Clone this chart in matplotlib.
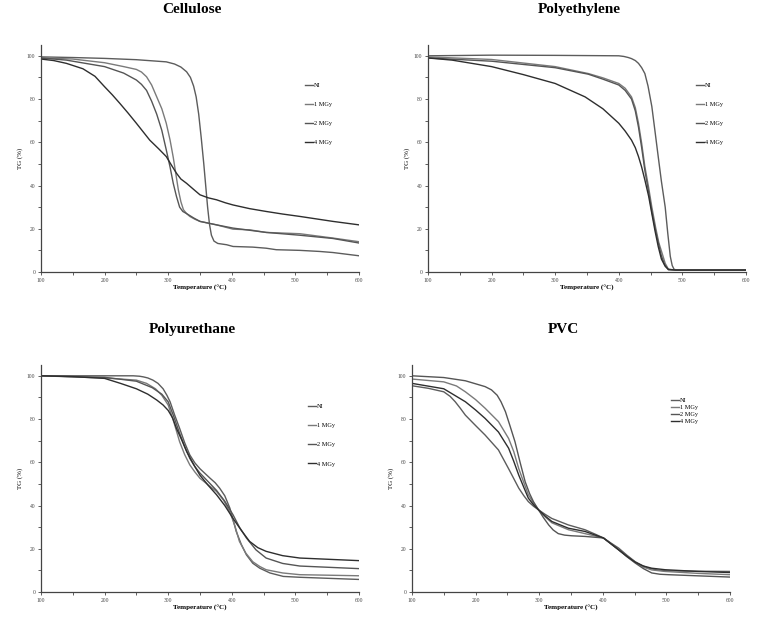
import matplotlib
matplotlib.use("Agg")
import matplotlib.pyplot as plt
from matplotlib.ticker import MultipleLocator

plt.rcParams["font.family"] = ["Liberation Serif", "DejaVu Serif"]

labels = ["NI", "1 MGy", "2 MGy", "4 MGy"]
colors = ["#5c5c5c", "#7a7a7a", "#555555", "#2e2e2e"]

# Cellulose
cell_ni_t = [100, 150, 200, 250, 297, 310, 320, 329, 335, 340, 344, 348, 352, 356, 359, 362, 365, 368, 372, 378, 392, 402, 433, 454, 470, 507, 538, 559, 600]
cell_ni_tg = [99.5, 99.2, 98.8, 98.2, 97.2, 96.2, 94.8, 92.6, 90, 86, 81, 73, 62, 50, 40, 30, 22, 17, 14.3, 13.2, 12.6, 11.8, 11.5, 11, 10.3, 10, 9.5, 9, 7.5]
cell_1_t = [100, 150, 200, 230, 250, 258, 266, 274, 282, 290, 297, 303, 308, 312, 316, 320, 324, 329, 334, 342, 350, 376, 402, 428, 454, 507, 559, 600]
cell_1_tg = [99, 98.5, 96.8, 95, 93.7, 92.5, 90.3, 86.5, 81, 75.5, 68.8, 61, 53, 45.5, 38, 32.5, 28.8, 27, 25.7, 24.4, 23.4, 21.8, 19.8, 19.5, 18.3, 17.7, 15.7, 14]
cell_2_t = [100, 140, 200, 230, 250, 258, 266, 274, 282, 290, 297, 303, 308, 313, 318, 323, 329, 340, 350, 376, 402, 454, 507, 559, 600]
cell_2_tg = [99, 98, 95, 92, 88.8, 86.8, 84, 79, 73, 65.5, 56.5, 48.5, 41, 35, 30, 28, 27, 25, 23.4, 21.8, 20.3, 18.3, 17, 15.5, 13.4]
cell_4_t = [100, 120, 140, 166, 185, 200, 212, 224, 237, 250, 271, 285, 297, 305, 313, 320, 329, 340, 350, 363, 376, 390, 402, 428, 454, 480, 507, 559, 600]
cell_4_tg = [98.5, 97.8, 96.5, 94, 90.5, 85.7, 82, 78, 73.5, 68.8, 61, 57, 53.4, 49.5, 45.7, 43, 41, 38.2, 35.7, 34.3, 33.4, 32, 31, 29.3, 28, 26.8, 25.7, 23.4, 21.8]

# Polyethylene
pe_ni_t = [100, 200, 300, 400, 408, 415, 420, 426, 431, 436, 441, 446, 452, 457, 462, 467, 473, 477, 481, 484, 487, 492, 600]
pe_ni_tg = [100, 100.3, 100.2, 100, 99.7, 99.2, 98.7, 97.8, 96.5, 94.5, 91.8, 86, 76.5, 65, 53.4, 42, 30, 18, 7.2, 3, 1.2, 0.9, 0.9]
pe_1_t = [100, 200, 300, 352, 375, 400, 410, 420, 426, 431, 436, 441, 447, 452, 458, 463, 468, 473, 478, 490, 600]
pe_1_tg = [99.5, 98.3, 95, 91.8, 89.8, 87.2, 85, 81, 76, 68.8, 59.5, 48.8, 39, 30, 20.5, 13.5, 8.8, 4, 1.3, 0.8, 0.8]
pe_2_t = [100, 200, 300, 352, 375, 400, 410, 420, 426, 431, 436, 441, 447, 452, 458, 463, 467, 472, 478, 490, 600]
pe_2_tg = [99, 97.5, 94.5, 91.5, 89.2, 86.5, 84, 80, 74.5, 67, 57.5, 47, 37, 28, 19, 12.5, 7.5, 3.5, 1, 0.9, 0.9]
pe_4_t = [100, 138, 200, 250, 300, 347, 375, 400, 410, 420, 426, 431, 436, 441, 447, 452, 457, 462, 467, 473, 478, 490, 600]
pe_4_tg = [99, 98, 95, 91.3, 87.2, 81, 75.5, 68.8, 65.2, 61, 57.5, 53.4, 48.5, 42.6, 35, 27, 19, 11.8, 6, 2.6, 1.2, 0.9, 0.9]

# Polyurethane
pu_ni_t = [100, 200, 245, 255, 261, 268, 276, 284, 292, 298, 303, 310, 318, 326, 334, 342, 350, 358, 366, 374, 381, 389, 397, 402, 407, 415, 423, 433, 444, 460, 481, 507, 600]
pu_ni_tg = [100, 100, 100, 99.8, 99.5, 99, 98, 96.5, 94, 91, 88, 82, 75.7, 69, 63.4, 59.7, 57, 54.8, 52.6, 50.5, 48, 44.5, 38.8, 33.5, 28, 22, 17.2, 13.3, 11, 8.8, 7.2, 6.8, 5.8]
pu_1_t = [100, 200, 250, 266, 280, 290, 300, 309, 318, 326, 334, 342, 350, 363, 376, 387, 397, 405, 412, 422, 433, 444, 454, 480, 507, 600]
pu_1_tg = [100, 99, 98, 96.5, 94, 91, 86.5, 78.5, 69.5, 63.5, 58.8, 55.5, 52.6, 49.5, 46.5, 42.5, 37, 30.5, 23.4, 18, 14, 11.8, 10.3, 8.8, 8, 7.5]
pu_2_t = [100, 200, 250, 275, 290, 300, 309, 318, 326, 334, 342, 350, 363, 376, 389, 402, 412, 423, 438, 454, 480, 507, 600]
pu_2_tg = [100, 99.3, 97.5, 94.5, 91.5, 88, 81, 73.4, 67.3, 61.8, 58, 55, 51, 47, 42, 35.7, 30, 25, 19.5, 15.7, 13.2, 12, 10.8]
pu_4_t = [100, 150, 200, 225, 250, 268, 282, 292, 300, 307, 313, 321, 329, 340, 350, 363, 376, 389, 402, 415, 428, 441, 454, 480, 507, 600]
pu_4_tg = [100, 99.6, 98.8, 96.5, 94, 91.5, 88.8, 86.5, 84, 80.5, 75.7, 70.5, 65, 59, 54, 49.3, 45, 40, 34, 28.5, 23.4, 20.5, 18.8, 16.8, 15.7, 14.5]

# PVC
pvc_ni_t = [100, 126, 150, 160, 168, 176, 184, 200, 215, 236, 252, 260, 268, 276, 283, 291, 299, 310, 320, 346, 372, 390, 401, 412, 425, 438, 451, 462, 472, 485, 498, 550, 600]
pvc_ni_tg = [95.4, 94.2, 92.6, 90.5, 88, 85, 81.8, 77, 72.6, 65.7, 57, 52.5, 48, 44.5, 41.8, 39.7, 38, 35.8, 34, 31, 28.8, 26.5, 25, 22.8, 20.3, 17, 14, 12.2, 11, 10.2, 9.8, 9.6, 9.5]
pvc_1_t = [100, 150, 170, 184, 200, 215, 236, 252, 260, 268, 276, 283, 291, 299, 310, 320, 346, 372, 401, 412, 425, 438, 451, 464, 477, 498, 550, 600]
pvc_1_tg = [98.5, 97.2, 95.3, 92.6, 89, 85, 78.8, 71, 65, 57, 50.5, 45, 41.2, 38, 34.6, 32, 28.8, 27, 25, 22.5, 19.5, 16.5, 13.8, 11.5, 10.2, 9.5, 8.6, 8]
pvc_2_t = [100, 150, 184, 215, 225, 234, 240, 247, 254, 262, 270, 278, 285, 291, 299, 307, 315, 322, 330, 340, 351, 372, 401, 412, 425, 438, 451, 464, 477, 490, 503, 600]
pvc_2_tg = [100, 99.2, 97.7, 95, 93.5, 91, 88, 83.4, 77, 69.5, 60, 51, 45.5, 41.8, 38, 34.3, 31, 28.7, 27, 26.3, 26, 25.7, 25, 22.5, 19.5, 16.3, 13.4, 10.8, 8.8, 8.2, 8, 6.9]
pvc_4_t = [100, 150, 184, 200, 215, 236, 252, 260, 268, 276, 283, 291, 299, 310, 320, 346, 372, 401, 412, 425, 438, 451, 464, 477, 498, 550, 600]
pvc_4_tg = [96.5, 94, 88, 84.2, 80.3, 74, 66.5, 60.5, 54, 48.3, 43.4, 40.4, 38, 35, 32.6, 29.5, 28, 25, 22.5, 19.5, 16.5, 13.8, 12, 11, 10.3, 9.5, 9]

panels = [
    ("Cellulose", [0.0532, 0.5599, 0.413, 0.3673],
     [(cell_ni_t, cell_ni_tg), (cell_1_t, cell_1_tg), (cell_2_t, cell_2_tg), (cell_4_t, cell_4_tg)],
     (0.82, 0.848), 2.2),
    ("Polyethylene", [0.5558, 0.5599, 0.413, 0.3673],
     [(pe_ni_t, pe_ni_tg), (pe_1_t, pe_1_tg), (pe_2_t, pe_2_tg), (pe_4_t, pe_4_tg)],
     (0.833, 0.848), 2.2),
    ("Polyurethane", [0.0532, 0.0421, 0.413, 0.3673],
     [(pu_ni_t, pu_ni_tg), (pu_1_t, pu_1_tg), (pu_2_t, pu_2_tg), (pu_4_t, pu_4_tg)],
     (0.83, 0.843), 2.2),
    ("PVC", [0.535, 0.0421, 0.413, 0.3673],
     [(pvc_ni_t, pvc_ni_tg), (pvc_1_t, pvc_1_tg), (pvc_2_t, pvc_2_tg), (pvc_4_t, pvc_4_tg)],
     (0.805, 0.87), 0.25),
]

fig = plt.figure(figsize=(7.7, 6.18), dpi=100)

for title, rect, series, leg_pos, spacing in panels:
    ax = fig.add_axes(rect)
    for (t, tg), lab, c in zip(series, labels, colors):
        ax.plot(t, tg, color=c, lw=1.0, label=lab)
    ax.set_xlim(100, 600)
    ax.set_ylim(0, 105)
    ax.xaxis.set_major_locator(MultipleLocator(100))
    ax.xaxis.set_minor_locator(MultipleLocator(50))
    ax.yaxis.set_major_locator(MultipleLocator(20))
    ax.yaxis.set_minor_locator(MultipleLocator(10))
    ax.tick_params(which="both", labelsize=4, length=2, width=0.6, colors="#444444", pad=2)
    for side in ["top", "right"]:
        ax.spines[side].set_visible(False)
    for side in ["left", "bottom"]:
        ax.spines[side].set_color("#444444")
        ax.spines[side].set_linewidth(0.9)
    ax.set_xlabel("Temperature (°C)", fontsize=5, fontweight="bold", labelpad=2)
    ax.set_ylabel("TG (%)", fontsize=5, labelpad=3)
    ax.legend(loc="upper left", bbox_to_anchor=leg_pos, frameon=False, fontsize=4.5,
              handlelength=1.3, handletextpad=0.1, labelspacing=spacing, borderpad=0)
    fig.text(rect[0] + rect[2] / 2 - 0.01, rect[1] + rect[3] + 0.068, title,
             ha="center", va="top", fontsize=11, fontweight="bold")

fig.savefig("out.png", dpi=100)
